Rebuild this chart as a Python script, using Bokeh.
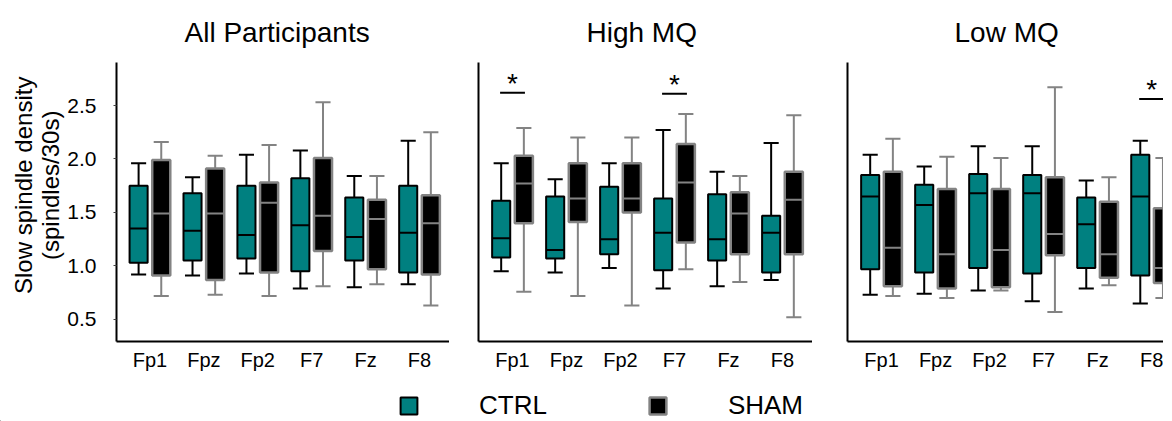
import numpy as np
from bokeh.plotting import figure
from bokeh.layouts import column, row
from bokeh.models import (ColumnDataSource, Range1d, FixedTicker, Legend, LegendItem,
                          NumeralTickFormatter)
from bokeh.embed import file_html
from bokeh.resources import INLINE
from bokeh.core.properties import value

electrodes = ["Fp1", "Fpz", "Fp2", "F7", "Fz", "F8"]
panel_titles = ["All Participants", "High MQ", "Low MQ"]
groups = ["CTRL", "SHAM"]
y_ticks = [0.5, 1.0, 1.5, 2.0, 2.5]
y_title = ["Slow spindle density", "(spindles/30s)"]

# All participants
all_ctrl_lo = [0.92, 0.91, 0.93, 0.79, 0.80, 0.83]
all_ctrl_q1 = [1.03, 1.05, 1.07, 0.95, 1.05, 0.94]
all_ctrl_med = [1.35, 1.33, 1.29, 1.38, 1.27, 1.31]
all_ctrl_q3 = [1.75, 1.68, 1.75, 1.82, 1.64, 1.75]
all_ctrl_hi = [1.96, 1.83, 2.04, 2.08, 1.84, 2.17]
all_sham_lo = [0.72, 0.73, 0.72, 0.81, 0.83, 0.63]
all_sham_q1 = [0.91, 0.87, 0.94, 1.14, 0.97, 0.92]
all_sham_med = [1.49, 1.49, 1.59, 1.47, 1.44, 1.40]
all_sham_q3 = [1.99, 1.91, 1.78, 2.01, 1.62, 1.66]
all_sham_hi = [2.16, 2.03, 2.13, 2.53, 1.84, 2.25]

# High MQ
high_ctrl_lo = [0.95, 0.94, 0.98, 0.79, 0.81, 0.87]
high_ctrl_q1 = [1.08, 1.07, 1.11, 0.96, 1.05, 0.94]
high_ctrl_med = [1.26, 1.15, 1.25, 1.31, 1.25, 1.31]
high_ctrl_q3 = [1.61, 1.65, 1.74, 1.63, 1.67, 1.47]
high_ctrl_hi = [1.96, 1.81, 1.96, 2.27, 1.88, 2.15]
high_sham_lo = [0.76, 0.72, 0.63, 0.97, 0.85, 0.52]
high_sham_q1 = [1.40, 1.41, 1.50, 1.22, 1.11, 1.11]
high_sham_med = [1.77, 1.63, 1.63, 1.78, 1.49, 1.62]
high_sham_q3 = [2.03, 1.96, 1.96, 2.14, 1.69, 1.88]
high_sham_hi = [2.29, 2.20, 2.20, 2.42, 1.84, 2.41]

# Low MQ
low_ctrl_lo = [0.73, 0.74, 0.77, 0.67, 0.79, 0.65]
low_ctrl_q1 = [0.97, 0.94, 0.98, 0.93, 0.98, 0.91]
low_ctrl_med = [1.65, 1.57, 1.68, 1.68, 1.39, 1.65]
low_ctrl_q3 = [1.85, 1.76, 1.86, 1.85, 1.64, 2.04]
low_ctrl_hi = [2.04, 1.93, 2.12, 2.12, 1.80, 2.17]
low_sham_lo = [0.72, 0.70, 0.77, 0.57, 0.82, 0.70]
low_sham_q1 = [0.81, 0.79, 0.80, 1.10, 0.89, 0.84]
low_sham_med = [1.17, 1.11, 1.15, 1.30, 1.11, 0.98]
low_sham_q3 = [1.88, 1.72, 1.72, 1.83, 1.60, 1.54]
low_sham_hi = [2.19, 2.02, 2.01, 2.67, 1.83, 2.01]

# significance markers (electrode, bar height)
high_sig = ["Fp1", "F7"]
high_sig_y = [2.62, 2.61]
low_sig = ["F8"]
low_sig_y = [2.56]

TEAL = "#008080"
GREY = "#838383"
FONT = "Liberation Sans"
OFF = 0.21
BW = 0.335
CAP = 0.28
SIGW = 0.23
PAD = "\u00a0" * 5   # non-breaking lead-in nudges the centred y title upward

xpos = np.arange(len(electrodes), dtype=float)


def make_panel(title, ctrl, sham, x_start, x_end, frame_w, left, first, sig, sig_y, toff):
    p = figure(title=title, x_range=Range1d(x_start, x_end), y_range=Range1d(0.294, 2.902),
               frame_width=frame_w, frame_height=279, min_border_left=left, min_border_right=0,
               min_border_top=62, min_border_bottom=30, output_backend="svg",
               toolbar_location=None)
    p.outline_line_color = None
    p.grid.visible = False
    p.background_fill_color = "white"
    p.title.text_font = FONT
    p.title.text_font_size = "28px"
    p.title.text_font_style = "normal"
    p.title.align = "left"
    p.title.offset = toff
    p.title.text_color = "black"
    p.title.standoff = 29

    for stats, dx, fill, line, lw in [(ctrl, -OFF, TEAL, "black", 2), (sham, OFF, "black", GREY, 2.5)]:
        lo, q1, med, q3, hi = stats
        xs = xpos + dx
        src = ColumnDataSource(dict(x=xs, lo=lo, q1=q1, med=med, q3=q3, hi=hi,
                                    cl=xs - CAP / 2, cr=xs + CAP / 2,
                                    bl=xs - BW / 2, br=xs + BW / 2))
        p.segment(x0="x", y0="q3", x1="x", y1="hi", source=src, line_color=line, line_width=2)
        p.segment(x0="x", y0="lo", x1="x", y1="q1", source=src, line_color=line, line_width=2)
        p.segment(x0="cl", y0="hi", x1="cr", y1="hi", source=src, line_color=line, line_width=2)
        p.segment(x0="cl", y0="lo", x1="cr", y1="lo", source=src, line_color=line, line_width=2)
        p.vbar(x="x", bottom="q1", top="q3", width=BW, source=src, fill_color=fill,
               line_color=line, line_width=lw)
        p.segment(x0="bl", y0="med", x1="br", y1="med", source=src, line_color=line, line_width=2)

    if sig:
        sx = np.array([electrodes.index(e) for e in sig], dtype=float)
        sy = np.array(sig_y)
        ssrc = ColumnDataSource(dict(x0=sx - SIGW, x1=sx + SIGW, y=sy, x=sx, ty=sy + 0.09,
                                     t=["*"] * len(sig)))
        p.segment(x0="x0", y0="y", x1="x1", y1="y", source=ssrc, line_color="black", line_width=2)
        p.text(x="x", y="ty", text="t", source=ssrc, text_font=value(FONT),
               text_font_size="28px", text_align="center", text_baseline="alphabetic",
               text_color="black")

    p.xaxis.ticker = FixedTicker(ticks=list(xpos))
    p.xaxis.major_label_overrides = {int(i): e for i, e in enumerate(electrodes)}
    p.xaxis.major_tick_line_color = None
    p.xaxis.major_tick_out = 0
    p.xaxis.major_tick_in = 0
    p.xaxis.minor_tick_line_color = None
    p.xaxis.major_label_standoff = 7
    p.xaxis.major_label_text_font = FONT
    p.xaxis.major_label_text_font_size = "20px"
    p.xaxis.major_label_text_color = "black"
    for ax in (p.xaxis, p.yaxis):
        ax.axis_line_width = 2
        ax.axis_line_color = "black"

    p.yaxis.minor_tick_line_color = None
    if first:
        p.yaxis.ticker = FixedTicker(ticks=y_ticks)
        p.yaxis.formatter = NumeralTickFormatter(format="0.0")
        p.yaxis.axis_label = "\n".join(PAD + t for t in y_title)
        p.yaxis.axis_label_text_font = FONT
        p.yaxis.axis_label_text_font_size = "24px"
        p.yaxis.axis_label_text_font_style = "normal"
        p.yaxis.axis_label_text_color = "black"
        p.yaxis.axis_label_text_line_height = 1.02
        p.yaxis.axis_label_standoff = 0
        p.yaxis.major_label_text_font = FONT
        p.yaxis.major_label_text_font_size = "21px"
        p.yaxis.major_label_text_color = "black"
        p.yaxis.major_label_standoff = 17
        p.yaxis.major_tick_out = 3
        p.yaxis.major_tick_in = 0
        p.yaxis.major_tick_line_color = "#444444"
    else:
        # shared y scale: only the axis line is shown on the right-hand panels
        p.yaxis.ticker = FixedTicker(ticks=[])
        p.yaxis.major_tick_line_color = None
        p.yaxis.major_tick_out = 0
        p.yaxis.major_label_standoff = 0
    return p


p1 = make_panel(panel_titles[0],
                (all_ctrl_lo, all_ctrl_q1, all_ctrl_med, all_ctrl_q3, all_ctrl_hi),
                (all_sham_lo, all_sham_q1, all_sham_med, all_sham_q3, all_sham_hi),
                -0.62, 5.556, 333, 116, True, None, None, 68)
p2 = make_panel(panel_titles[1],
                (high_ctrl_lo, high_ctrl_q1, high_ctrl_med, high_ctrl_q3, high_ctrl_hi),
                (high_sham_lo, high_sham_q1, high_sham_med, high_sham_q3, high_sham_hi),
                -0.63, 5.556, 334, 29, False, high_sig, high_sig_y, 108)
p3 = make_panel(panel_titles[2],
                (low_ctrl_lo, low_ctrl_q1, low_ctrl_med, low_ctrl_q3, low_ctrl_hi),
                (low_sham_lo, low_sham_q1, low_sham_med, low_sham_q3, low_sham_hi),
                -0.63, 5.22, 316, 35, False, low_sig, low_sig_y, 107)

# legend strip (dummy renderers lie outside the visible range; they only feed the legend)
lp = figure(width=1163, height=48, x_range=Range1d(0, 1), y_range=Range1d(0, 1),
            output_backend="svg", toolbar_location=None, min_border=0)
lp.axis.visible = False
lp.grid.visible = False
lp.outline_line_color = None
dummy_c = ColumnDataSource(dict(x=[-5.0], top=[-5.0]))
dummy_s = ColumnDataSource(dict(x=[-5.0], top=[-5.0]))
rc = lp.vbar(x="x", top="top", width=1, source=dummy_c, fill_color=TEAL, line_color="black", line_width=2)
rs = lp.vbar(x="x", top="top", width=1, source=dummy_s, fill_color="black", line_color=GREY, line_width=2.5)
legend = Legend(items=[LegendItem(label=groups[0], renderers=[rc]),
                       LegendItem(label=groups[1], renderers=[rs])],
                orientation="horizontal", location=(398, 0), glyph_width=21, glyph_height=21,
                label_standoff=60, spacing=100, label_text_font=FONT, label_text_font_size="26px",
                label_text_color="black", padding=0, margin=0, border_line_color=None,
                background_fill_alpha=0)
lp.add_layout(legend)

layout = column(row(p1, p2, p3), lp)
open("out.html", "w").write(file_html(layout, INLINE))
